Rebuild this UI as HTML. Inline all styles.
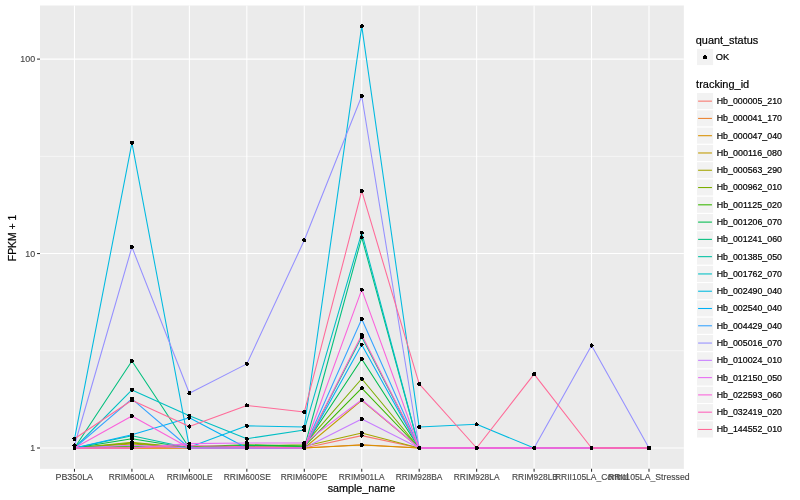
<!DOCTYPE html>
<html><head><meta charset="utf-8"><title>expression plot</title>
<style>html,body{margin:0;padding:0;background:#fff;}svg{display:block;will-change:transform;}text{font-family:"Liberation Sans",sans-serif;}</style></head><body>
<svg width="800" height="500" viewBox="0 0 800 500">
<rect x="0" y="0" width="800" height="500" fill="#FFFFFF"/>
<rect x="40.0" y="5.48" width="643.85" height="463.37" fill="#EBEBEB"/>
<line x1="40.0" x2="683.85" y1="350.77" y2="350.77" stroke="#FFFFFF" stroke-width="0.53"/>
<line x1="40.0" x2="683.85" y1="156.33" y2="156.33" stroke="#FFFFFF" stroke-width="0.53"/>
<line x1="40.0" x2="683.85" y1="448.00" y2="448.00" stroke="#FFFFFF" stroke-width="1.07"/>
<line x1="40.0" x2="683.85" y1="253.55" y2="253.55" stroke="#FFFFFF" stroke-width="1.07"/>
<line x1="40.0" x2="683.85" y1="59.10" y2="59.10" stroke="#FFFFFF" stroke-width="1.07"/>
<line x1="74.47" x2="74.47" y1="5.48" y2="468.85" stroke="#FFFFFF" stroke-width="1.07"/>
<line x1="131.92" x2="131.92" y1="5.48" y2="468.85" stroke="#FFFFFF" stroke-width="1.07"/>
<line x1="189.38" x2="189.38" y1="5.48" y2="468.85" stroke="#FFFFFF" stroke-width="1.07"/>
<line x1="246.83" x2="246.83" y1="5.48" y2="468.85" stroke="#FFFFFF" stroke-width="1.07"/>
<line x1="304.28" x2="304.28" y1="5.48" y2="468.85" stroke="#FFFFFF" stroke-width="1.07"/>
<line x1="361.74" x2="361.74" y1="5.48" y2="468.85" stroke="#FFFFFF" stroke-width="1.07"/>
<line x1="419.19" x2="419.19" y1="5.48" y2="468.85" stroke="#FFFFFF" stroke-width="1.07"/>
<line x1="476.64" x2="476.64" y1="5.48" y2="468.85" stroke="#FFFFFF" stroke-width="1.07"/>
<line x1="534.09" x2="534.09" y1="5.48" y2="468.85" stroke="#FFFFFF" stroke-width="1.07"/>
<line x1="591.55" x2="591.55" y1="5.48" y2="468.85" stroke="#FFFFFF" stroke-width="1.07"/>
<line x1="649.00" x2="649.00" y1="5.48" y2="468.85" stroke="#FFFFFF" stroke-width="1.07"/>
<g fill="none" stroke-width="1.07" stroke-linejoin="round" stroke-linecap="butt">
<polyline points="74.47,448.00 131.92,448.00 189.38,448.00 246.83,448.00 304.28,448.00 361.74,435.61 419.19,448.00 476.64,448.00 534.09,448.00 591.55,448.00 649.00,448.00" stroke="#F8766D"/>
<polyline points="74.47,448.00 131.92,448.00 189.38,448.00 246.83,448.00 304.28,448.00 361.74,444.69 419.19,448.00 476.64,448.00 534.09,448.00 591.55,448.00 649.00,448.00" stroke="#EA8331"/>
<polyline points="74.47,448.00 131.92,448.00 189.38,448.00 246.83,448.00 304.28,448.00 361.74,445.09 419.19,448.00 476.64,448.00 534.09,448.00 591.55,448.00 649.00,448.00" stroke="#D89000"/>
<polyline points="74.47,448.00 131.92,443.88 189.38,448.00 246.83,446.33 304.28,448.00 361.74,400.40 419.19,448.00 476.64,448.00 534.09,448.00 591.55,448.00 649.00,448.00" stroke="#C09B00"/>
<polyline points="74.47,448.00 131.92,442.29 189.38,448.00 246.83,445.50 304.28,446.33 361.74,432.96 419.19,448.00 476.64,448.00 534.09,448.00 591.55,448.00 649.00,448.00" stroke="#A3A500"/>
<polyline points="74.47,448.00 131.92,443.08 189.38,448.00 246.83,445.91 304.28,444.69 361.74,378.77 419.19,448.00 476.64,448.00 534.09,448.00 591.55,448.00 649.00,448.00" stroke="#7CAE00"/>
<polyline points="74.47,447.16 131.92,446.33 189.38,446.74 246.83,444.69 304.28,446.33 361.74,388.21 419.19,448.00 476.64,448.00 534.09,448.00 591.55,448.00 649.00,448.00" stroke="#39B600"/>
<polyline points="74.47,448.00 131.92,438.81 189.38,448.00 246.83,445.50 304.28,446.33 361.74,358.96 419.19,448.00 476.64,448.00 534.09,448.00 591.55,448.00 649.00,448.00" stroke="#00BB4E"/>
<polyline points="74.47,448.00 131.92,361.05 189.38,448.00 246.83,448.00 304.28,448.00 361.74,237.45 419.19,448.00 476.64,448.00 534.09,448.00 591.55,448.00 649.00,448.00" stroke="#00BF7D"/>
<polyline points="74.47,448.00 131.92,435.83 189.38,448.00 246.83,448.00 304.28,448.00 361.74,337.06 419.19,448.00 476.64,448.00 534.09,448.00 591.55,448.00 649.00,448.00" stroke="#00C1A3"/>
<polyline points="74.47,448.00 131.92,389.89 189.38,415.75 246.83,438.73 304.28,429.97 361.74,232.70 419.19,448.00 476.64,448.00 534.09,448.00 591.55,448.00 649.00,448.00" stroke="#00BFC4"/>
<polyline points="74.47,439.19 131.92,142.84 189.38,447.16 246.83,425.84 304.28,427.02 361.74,26.16 419.19,427.09 476.64,424.30 534.09,448.00 591.55,448.00 649.00,448.00" stroke="#00BAE0"/>
<polyline points="74.47,448.00 131.92,434.74 189.38,417.79 246.83,448.00 304.28,448.00 361.74,344.65 419.19,448.00 476.64,448.00 534.09,448.00 591.55,448.00 649.00,448.00" stroke="#00B0F6"/>
<polyline points="74.47,448.00 131.92,398.83 189.38,448.00 246.83,448.00 304.28,448.00 361.74,318.94 419.19,448.00 476.64,448.00 534.09,448.00 591.55,448.00 649.00,448.00" stroke="#35A2FF"/>
<polyline points="74.47,445.50 131.92,247.05 189.38,393.18 246.83,363.87 304.28,240.29 361.74,96.00 419.19,448.00 476.64,448.00 534.09,448.00 591.55,345.53 649.00,448.00" stroke="#9590FF"/>
<polyline points="74.47,448.00 131.92,445.18 189.38,448.00 246.83,448.00 304.28,448.00 361.74,418.98 419.19,448.00 476.64,448.00 534.09,448.00 591.55,448.00 649.00,448.00" stroke="#C77CFF"/>
<polyline points="74.47,448.00 131.92,448.00 189.38,443.64 246.83,443.08 304.28,443.08 361.74,399.78 419.19,448.00 476.64,448.00 534.09,448.00 591.55,448.00 649.00,448.00" stroke="#E76BF3"/>
<polyline points="74.47,448.00 131.92,448.00 189.38,445.50 246.83,446.74 304.28,448.00 361.74,335.04 419.19,448.00 476.64,448.00 534.09,448.00 591.55,448.00 649.00,448.00" stroke="#FF62BC"/>
<polyline points="74.47,448.00 131.92,416.04 189.38,448.00 246.83,448.00 304.28,448.00 361.74,289.67 419.19,448.00 476.64,448.00 534.09,448.00 591.55,448.00 649.00,448.00" stroke="#FA62DB"/>
<polyline points="74.47,438.81 131.92,400.26 189.38,426.50 246.83,405.45 304.28,412.09 361.74,190.89 419.19,383.91 476.64,448.00 534.09,374.07 591.55,448.00 649.00,448.00" stroke="#FF6A98"/>
</g>
<g fill="#000000" shape-rendering="crispEdges">
<circle cx="74.47" cy="448.00" r="2.05"/>
<circle cx="131.92" cy="448.00" r="2.05"/>
<circle cx="189.38" cy="448.00" r="2.05"/>
<circle cx="246.83" cy="448.00" r="2.05"/>
<circle cx="304.28" cy="448.00" r="2.05"/>
<circle cx="361.74" cy="435.61" r="2.05"/>
<circle cx="419.19" cy="448.00" r="2.05"/>
<circle cx="476.64" cy="448.00" r="2.05"/>
<circle cx="534.09" cy="448.00" r="2.05"/>
<circle cx="591.55" cy="448.00" r="2.05"/>
<circle cx="649.00" cy="448.00" r="2.05"/>
<circle cx="361.74" cy="444.69" r="2.05"/>
<circle cx="361.74" cy="445.09" r="2.05"/>
<circle cx="131.92" cy="443.88" r="2.05"/>
<circle cx="246.83" cy="446.33" r="2.05"/>
<circle cx="361.74" cy="400.40" r="2.05"/>
<circle cx="131.92" cy="442.29" r="2.05"/>
<circle cx="246.83" cy="445.50" r="2.05"/>
<circle cx="304.28" cy="446.33" r="2.05"/>
<circle cx="361.74" cy="432.96" r="2.05"/>
<circle cx="131.92" cy="443.08" r="2.05"/>
<circle cx="246.83" cy="445.91" r="2.05"/>
<circle cx="304.28" cy="444.69" r="2.05"/>
<circle cx="361.74" cy="378.77" r="2.05"/>
<circle cx="74.47" cy="447.16" r="2.05"/>
<circle cx="131.92" cy="446.33" r="2.05"/>
<circle cx="189.38" cy="446.74" r="2.05"/>
<circle cx="246.83" cy="444.69" r="2.05"/>
<circle cx="361.74" cy="388.21" r="2.05"/>
<circle cx="131.92" cy="438.81" r="2.05"/>
<circle cx="361.74" cy="358.96" r="2.05"/>
<circle cx="131.92" cy="361.05" r="2.05"/>
<circle cx="361.74" cy="237.45" r="2.05"/>
<circle cx="131.92" cy="435.83" r="2.05"/>
<circle cx="361.74" cy="337.06" r="2.05"/>
<circle cx="131.92" cy="389.89" r="2.05"/>
<circle cx="189.38" cy="415.75" r="2.05"/>
<circle cx="246.83" cy="438.73" r="2.05"/>
<circle cx="304.28" cy="429.97" r="2.05"/>
<circle cx="361.74" cy="232.70" r="2.05"/>
<circle cx="74.47" cy="439.19" r="2.05"/>
<circle cx="131.92" cy="142.84" r="2.05"/>
<circle cx="189.38" cy="447.16" r="2.05"/>
<circle cx="246.83" cy="425.84" r="2.05"/>
<circle cx="304.28" cy="427.02" r="2.05"/>
<circle cx="361.74" cy="26.16" r="2.05"/>
<circle cx="419.19" cy="427.09" r="2.05"/>
<circle cx="476.64" cy="424.30" r="2.05"/>
<circle cx="131.92" cy="434.74" r="2.05"/>
<circle cx="189.38" cy="417.79" r="2.05"/>
<circle cx="361.74" cy="344.65" r="2.05"/>
<circle cx="131.92" cy="398.83" r="2.05"/>
<circle cx="361.74" cy="318.94" r="2.05"/>
<circle cx="74.47" cy="445.50" r="2.05"/>
<circle cx="131.92" cy="247.05" r="2.05"/>
<circle cx="189.38" cy="393.18" r="2.05"/>
<circle cx="246.83" cy="363.87" r="2.05"/>
<circle cx="304.28" cy="240.29" r="2.05"/>
<circle cx="361.74" cy="96.00" r="2.05"/>
<circle cx="591.55" cy="345.53" r="2.05"/>
<circle cx="131.92" cy="445.18" r="2.05"/>
<circle cx="361.74" cy="418.98" r="2.05"/>
<circle cx="189.38" cy="443.64" r="2.05"/>
<circle cx="246.83" cy="443.08" r="2.05"/>
<circle cx="304.28" cy="443.08" r="2.05"/>
<circle cx="361.74" cy="399.78" r="2.05"/>
<circle cx="131.92" cy="416.04" r="2.05"/>
<circle cx="361.74" cy="289.67" r="2.05"/>
<circle cx="189.38" cy="445.50" r="2.05"/>
<circle cx="246.83" cy="446.74" r="2.05"/>
<circle cx="361.74" cy="335.04" r="2.05"/>
<circle cx="74.47" cy="438.81" r="2.05"/>
<circle cx="131.92" cy="400.26" r="2.05"/>
<circle cx="189.38" cy="426.50" r="2.05"/>
<circle cx="246.83" cy="405.45" r="2.05"/>
<circle cx="304.28" cy="412.09" r="2.05"/>
<circle cx="361.74" cy="190.89" r="2.05"/>
<circle cx="419.19" cy="383.91" r="2.05"/>
<circle cx="534.09" cy="374.07" r="2.05"/>
</g>
<g stroke="#333333" stroke-width="1.07">
<line x1="37.05" x2="40.0" y1="448.00" y2="448.00"/>
<line x1="37.05" x2="40.0" y1="253.55" y2="253.55"/>
<line x1="37.05" x2="40.0" y1="59.10" y2="59.10"/>
<line x1="74.47" x2="74.47" y1="468.85" y2="471.70000000000005"/>
<line x1="131.92" x2="131.92" y1="468.85" y2="471.70000000000005"/>
<line x1="189.38" x2="189.38" y1="468.85" y2="471.70000000000005"/>
<line x1="246.83" x2="246.83" y1="468.85" y2="471.70000000000005"/>
<line x1="304.28" x2="304.28" y1="468.85" y2="471.70000000000005"/>
<line x1="361.74" x2="361.74" y1="468.85" y2="471.70000000000005"/>
<line x1="419.19" x2="419.19" y1="468.85" y2="471.70000000000005"/>
<line x1="476.64" x2="476.64" y1="468.85" y2="471.70000000000005"/>
<line x1="534.09" x2="534.09" y1="468.85" y2="471.70000000000005"/>
<line x1="591.55" x2="591.55" y1="468.85" y2="471.70000000000005"/>
<line x1="649.00" x2="649.00" y1="468.85" y2="471.70000000000005"/>
</g>
<g fill="#484848" font-size="8.8" stroke="#484848" stroke-width="0.15">
<text x="30.200000000000003" y="451" textLength="4.9" lengthAdjust="spacingAndGlyphs">1</text>
<text x="25.200000000000003" y="257" textLength="9.9" lengthAdjust="spacingAndGlyphs">10</text>
<text x="20.3" y="62" textLength="14.8" lengthAdjust="spacingAndGlyphs">100</text>
<text x="55.5" y="480" textLength="37.50" lengthAdjust="spacingAndGlyphs">PB350LA</text>
<text x="108.7" y="480" textLength="45.60" lengthAdjust="spacingAndGlyphs">RRIM600LA</text>
<text x="166.75" y="480" textLength="45.75" lengthAdjust="spacingAndGlyphs">RRIM600LE</text>
<text x="223.7" y="480" textLength="47.10" lengthAdjust="spacingAndGlyphs">RRIM600SE</text>
<text x="280.7" y="480" textLength="46.80" lengthAdjust="spacingAndGlyphs">RRIM600PE</text>
<text x="338.75" y="480" textLength="45.75" lengthAdjust="spacingAndGlyphs">RRIM901LA</text>
<text x="395.7" y="480" textLength="46.80" lengthAdjust="spacingAndGlyphs">RRIM928BA</text>
<text x="453.75" y="480" textLength="45.75" lengthAdjust="spacingAndGlyphs">RRIM928LA</text>
<text x="512" y="480" textLength="46.00" lengthAdjust="spacingAndGlyphs">RRIM928LB</text>
<text x="555" y="480" textLength="73.50" lengthAdjust="spacingAndGlyphs">RRII105LA_Control</text>
<text x="608" y="480" textLength="81.60" lengthAdjust="spacingAndGlyphs">RRII105LA_Stressed</text>
</g>
<g stroke="#000" stroke-width="0.2">
<text x="327.7" y="492" font-size="11.4" fill="#000" textLength="67.5" lengthAdjust="spacingAndGlyphs">sample_name</text>
<text transform="translate(16.3,261.2) rotate(-90)" font-size="11.2" fill="#000" textLength="46.6" lengthAdjust="spacingAndGlyphs">FPKM + 1</text>
<text x="695.8" y="44" font-size="11.4" fill="#000" textLength="62.4" lengthAdjust="spacingAndGlyphs">quant_status</text>
<rect x="696.4" y="48.36" width="17.28" height="17.28" fill="#F2F2F2" stroke="#FFFFFF" stroke-width="1.07"/>
<path d="M704 55h2v1h1v3h-4v-3h1z" fill="#000" stroke="none" shape-rendering="crispEdges"/>
<text x="715.8" y="60.0" font-size="8.8" fill="#000" textLength="13.5" lengthAdjust="spacingAndGlyphs">OK</text>
<text x="696.1" y="88" font-size="11.4" fill="#000" textLength="53.1" lengthAdjust="spacingAndGlyphs">tracking_id</text>
<rect x="696.4" y="92.50" width="17.28" height="17.28" fill="#F2F2F2" stroke="#FFFFFF" stroke-width="1.07"/>
<line x1="698.1" x2="711.95" y1="101.14" y2="101.14" stroke="#F8766D" stroke-width="1.07"/>
<text x="716.75" y="104" font-size="8.8" fill="#000" textLength="65.25" lengthAdjust="spacingAndGlyphs">Hb_000005_210</text>
<rect x="696.4" y="109.78" width="17.28" height="17.28" fill="#F2F2F2" stroke="#FFFFFF" stroke-width="1.07"/>
<line x1="698.1" x2="711.95" y1="118.42" y2="118.42" stroke="#EA8331" stroke-width="1.07"/>
<text x="716.75" y="121" font-size="8.8" fill="#000" textLength="65.25" lengthAdjust="spacingAndGlyphs">Hb_000041_170</text>
<rect x="696.4" y="127.06" width="17.28" height="17.28" fill="#F2F2F2" stroke="#FFFFFF" stroke-width="1.07"/>
<line x1="698.1" x2="711.95" y1="135.70" y2="135.70" stroke="#D89000" stroke-width="1.07"/>
<text x="716.75" y="139" font-size="8.8" fill="#000" textLength="65.25" lengthAdjust="spacingAndGlyphs">Hb_000047_040</text>
<rect x="696.4" y="144.34" width="17.28" height="17.28" fill="#F2F2F2" stroke="#FFFFFF" stroke-width="1.07"/>
<line x1="698.1" x2="711.95" y1="152.98" y2="152.98" stroke="#C09B00" stroke-width="1.07"/>
<text x="716.75" y="156" font-size="8.8" fill="#000" textLength="65.25" lengthAdjust="spacingAndGlyphs">Hb_000116_080</text>
<rect x="696.4" y="161.62" width="17.28" height="17.28" fill="#F2F2F2" stroke="#FFFFFF" stroke-width="1.07"/>
<line x1="698.1" x2="711.95" y1="170.26" y2="170.26" stroke="#A3A500" stroke-width="1.07"/>
<text x="716.75" y="173" font-size="8.8" fill="#000" textLength="65.25" lengthAdjust="spacingAndGlyphs">Hb_000563_290</text>
<rect x="696.4" y="178.90" width="17.28" height="17.28" fill="#F2F2F2" stroke="#FFFFFF" stroke-width="1.07"/>
<line x1="698.1" x2="711.95" y1="187.54" y2="187.54" stroke="#7CAE00" stroke-width="1.07"/>
<text x="716.75" y="190" font-size="8.8" fill="#000" textLength="65.25" lengthAdjust="spacingAndGlyphs">Hb_000962_010</text>
<rect x="696.4" y="196.18" width="17.28" height="17.28" fill="#F2F2F2" stroke="#FFFFFF" stroke-width="1.07"/>
<line x1="698.1" x2="711.95" y1="204.82" y2="204.82" stroke="#39B600" stroke-width="1.07"/>
<text x="716.75" y="208" font-size="8.8" fill="#000" textLength="65.25" lengthAdjust="spacingAndGlyphs">Hb_001125_020</text>
<rect x="696.4" y="213.46" width="17.28" height="17.28" fill="#F2F2F2" stroke="#FFFFFF" stroke-width="1.07"/>
<line x1="698.1" x2="711.95" y1="222.10" y2="222.10" stroke="#00BB4E" stroke-width="1.07"/>
<text x="716.75" y="225" font-size="8.8" fill="#000" textLength="65.25" lengthAdjust="spacingAndGlyphs">Hb_001206_070</text>
<rect x="696.4" y="230.74" width="17.28" height="17.28" fill="#F2F2F2" stroke="#FFFFFF" stroke-width="1.07"/>
<line x1="698.1" x2="711.95" y1="239.38" y2="239.38" stroke="#00BF7D" stroke-width="1.07"/>
<text x="716.75" y="242" font-size="8.8" fill="#000" textLength="65.25" lengthAdjust="spacingAndGlyphs">Hb_001241_060</text>
<rect x="696.4" y="248.02" width="17.28" height="17.28" fill="#F2F2F2" stroke="#FFFFFF" stroke-width="1.07"/>
<line x1="698.1" x2="711.95" y1="256.66" y2="256.66" stroke="#00C1A3" stroke-width="1.07"/>
<text x="716.75" y="260" font-size="8.8" fill="#000" textLength="65.25" lengthAdjust="spacingAndGlyphs">Hb_001385_050</text>
<rect x="696.4" y="265.30" width="17.28" height="17.28" fill="#F2F2F2" stroke="#FFFFFF" stroke-width="1.07"/>
<line x1="698.1" x2="711.95" y1="273.94" y2="273.94" stroke="#00BFC4" stroke-width="1.07"/>
<text x="716.75" y="277" font-size="8.8" fill="#000" textLength="65.25" lengthAdjust="spacingAndGlyphs">Hb_001762_070</text>
<rect x="696.4" y="282.58" width="17.28" height="17.28" fill="#F2F2F2" stroke="#FFFFFF" stroke-width="1.07"/>
<line x1="698.1" x2="711.95" y1="291.22" y2="291.22" stroke="#00BAE0" stroke-width="1.07"/>
<text x="716.75" y="294" font-size="8.8" fill="#000" textLength="65.25" lengthAdjust="spacingAndGlyphs">Hb_002490_040</text>
<rect x="696.4" y="299.86" width="17.28" height="17.28" fill="#F2F2F2" stroke="#FFFFFF" stroke-width="1.07"/>
<line x1="698.1" x2="711.95" y1="308.50" y2="308.50" stroke="#00B0F6" stroke-width="1.07"/>
<text x="716.75" y="311" font-size="8.8" fill="#000" textLength="65.25" lengthAdjust="spacingAndGlyphs">Hb_002540_040</text>
<rect x="696.4" y="317.14" width="17.28" height="17.28" fill="#F2F2F2" stroke="#FFFFFF" stroke-width="1.07"/>
<line x1="698.1" x2="711.95" y1="325.78" y2="325.78" stroke="#35A2FF" stroke-width="1.07"/>
<text x="716.75" y="329" font-size="8.8" fill="#000" textLength="65.25" lengthAdjust="spacingAndGlyphs">Hb_004429_040</text>
<rect x="696.4" y="334.42" width="17.28" height="17.28" fill="#F2F2F2" stroke="#FFFFFF" stroke-width="1.07"/>
<line x1="698.1" x2="711.95" y1="343.06" y2="343.06" stroke="#9590FF" stroke-width="1.07"/>
<text x="716.75" y="346" font-size="8.8" fill="#000" textLength="65.25" lengthAdjust="spacingAndGlyphs">Hb_005016_070</text>
<rect x="696.4" y="351.70" width="17.28" height="17.28" fill="#F2F2F2" stroke="#FFFFFF" stroke-width="1.07"/>
<line x1="698.1" x2="711.95" y1="360.34" y2="360.34" stroke="#C77CFF" stroke-width="1.07"/>
<text x="716.75" y="363" font-size="8.8" fill="#000" textLength="65.25" lengthAdjust="spacingAndGlyphs">Hb_010024_010</text>
<rect x="696.4" y="368.98" width="17.28" height="17.28" fill="#F2F2F2" stroke="#FFFFFF" stroke-width="1.07"/>
<line x1="698.1" x2="711.95" y1="377.62" y2="377.62" stroke="#E76BF3" stroke-width="1.07"/>
<text x="716.75" y="381" font-size="8.8" fill="#000" textLength="65.25" lengthAdjust="spacingAndGlyphs">Hb_012150_050</text>
<rect x="696.4" y="386.26" width="17.28" height="17.28" fill="#F2F2F2" stroke="#FFFFFF" stroke-width="1.07"/>
<line x1="698.1" x2="711.95" y1="394.90" y2="394.90" stroke="#FA62DB" stroke-width="1.07"/>
<text x="716.75" y="398" font-size="8.8" fill="#000" textLength="65.25" lengthAdjust="spacingAndGlyphs">Hb_022593_060</text>
<rect x="696.4" y="403.54" width="17.28" height="17.28" fill="#F2F2F2" stroke="#FFFFFF" stroke-width="1.07"/>
<line x1="698.1" x2="711.95" y1="412.18" y2="412.18" stroke="#FF62BC" stroke-width="1.07"/>
<text x="716.75" y="415" font-size="8.8" fill="#000" textLength="65.25" lengthAdjust="spacingAndGlyphs">Hb_032419_020</text>
<rect x="696.4" y="420.82" width="17.28" height="17.28" fill="#F2F2F2" stroke="#FFFFFF" stroke-width="1.07"/>
<line x1="698.1" x2="711.95" y1="429.46" y2="429.46" stroke="#FF6A98" stroke-width="1.07"/>
<text x="716.75" y="432" font-size="8.8" fill="#000" textLength="65.25" lengthAdjust="spacingAndGlyphs">Hb_144552_010</text>
</g>
</svg></body></html>
